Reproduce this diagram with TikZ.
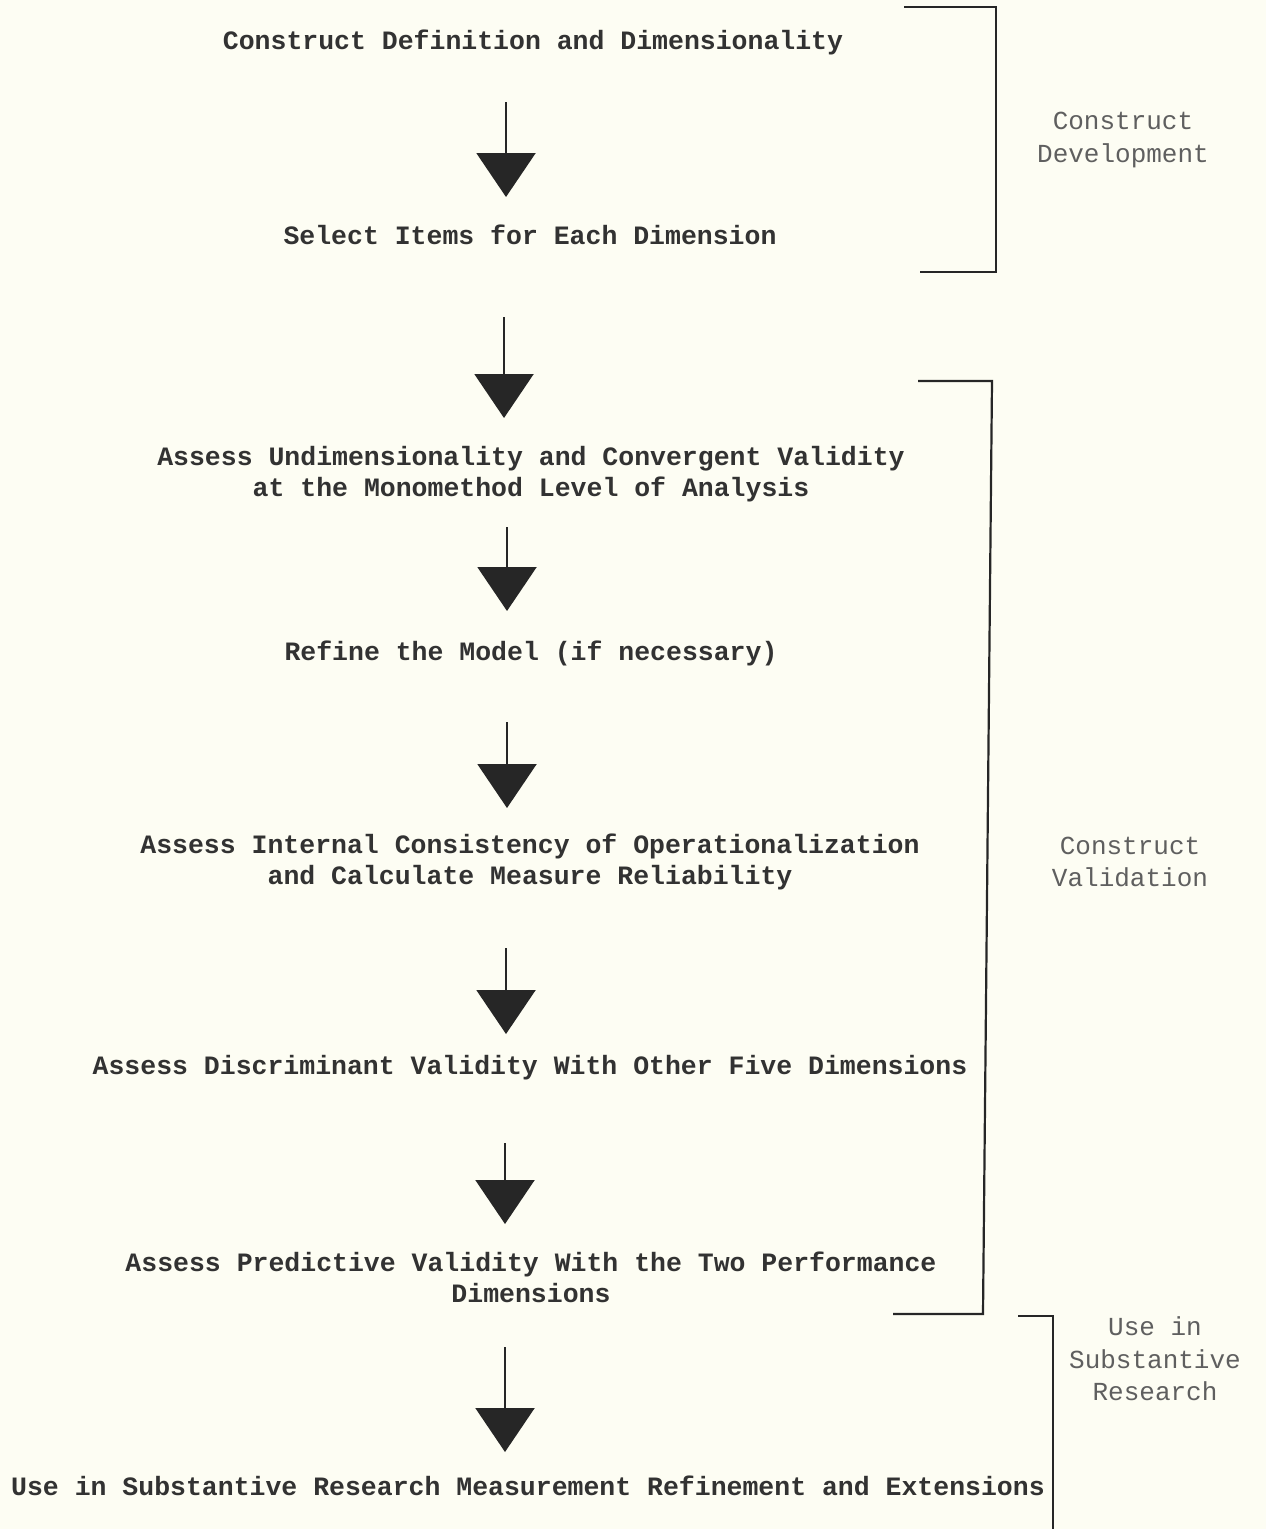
\documentclass[tikz,border=0pt]{standalone}
\usepackage{fontspec}
\usetikzlibrary{arrows.meta}
\newfontfamily\mainfnt{Liberation Mono}
\definecolor{bg}{RGB}{253,253,243}
\definecolor{ink}{RGB}{38,38,38}
\definecolor{txt}{RGB}{50,50,50}
\definecolor{side}{RGB}{95,95,95}
\tikzset{
  stage/.style={font=\mainfnt\bfseries\fontsize{26.5}{31}\selectfont, text=txt, align=center, inner sep=0pt},
  sidelabel/.style={font=\mainfnt\fontsize{26}{32.5}\selectfont, text=side, align=center, inner sep=0pt},
  flow/.style={draw=ink, line width=2.2pt, -{Triangle[length=44pt,width=59pt]}},
  brace/.style={draw=ink, line width=2.2pt},
}
\begin{document}
\begin{tikzpicture}[x=1pt,y=-1pt]
\fill[bg] (0,0) rectangle (1266,1529);
\useasboundingbox (0,0) rectangle (1266,1529);

% stage texts
\node[stage] (t1) at (533,42) {Construct Definition and Dimensionality};
\node[stage] (t2) at (530,235) {Select Items for Each Dimension};
\node[stage] (t3) at (531,474) {Assess Undimensionality and Convergent Validity\\at the Monomethod Level of Analysis};
\node[stage] (t4) at (531,653) {Refine the Model (if necessary)};
\node[stage] (t5) at (530,862) {Assess Internal Consistency of Operationalization\\and Calculate Measure Reliability};
\node[stage] (t6) at (530,1068) {Assess Discriminant Validity With Other Five Dimensions};
\node[stage] (t7) at (531,1277) {Assess Predictive Validity With the Two Performance\\Dimensions};
\node[stage] (t8) at (528,1486) {Use in Substantive Research Measurement Refinement and Extensions};

% arrow end points
\coordinate (a1s) at (506,102);  \coordinate (a1e) at (506,197);
\coordinate (a2s) at (504,317);  \coordinate (a2e) at (504,418);
\coordinate (a3s) at (507,527);  \coordinate (a3e) at (507,611);
\coordinate (a4s) at (507,722);  \coordinate (a4e) at (507,808);
\coordinate (a5s) at (506,948);  \coordinate (a5e) at (506,1034);
\coordinate (a6s) at (505,1143); \coordinate (a6e) at (505,1224);
\coordinate (a7s) at (505,1347); \coordinate (a7e) at (505,1452);

\draw[flow] (a1s) -- (a1e);
\draw[flow] (a2s) -- (a2e);
\draw[flow] (a3s) -- (a3e);
\draw[flow] (a4s) -- (a4e);
\draw[flow] (a5s) -- (a5e);
\draw[flow] (a6s) -- (a6e);
\draw[flow] (a7s) -- (a7e);

% brackets
\draw[brace] (904,7) -- (996,7) -- (996,272) -- (920,272);
\draw[brace] (918,381) -- (992,381) -- (983,1314) -- (893,1314);
\draw[brace] (1018,1316) -- (1053,1316) -- (1053,1529);

% phase labels
\node[sidelabel] (p1) at (1123,140) {Construct\\Development};
\node[sidelabel] (p2) at (1130,862) {Construct\\Validation};
\node[sidelabel] (p3) at (1155,1359) {Use in\\Substantive\\Research};
\end{tikzpicture}
\end{document}
